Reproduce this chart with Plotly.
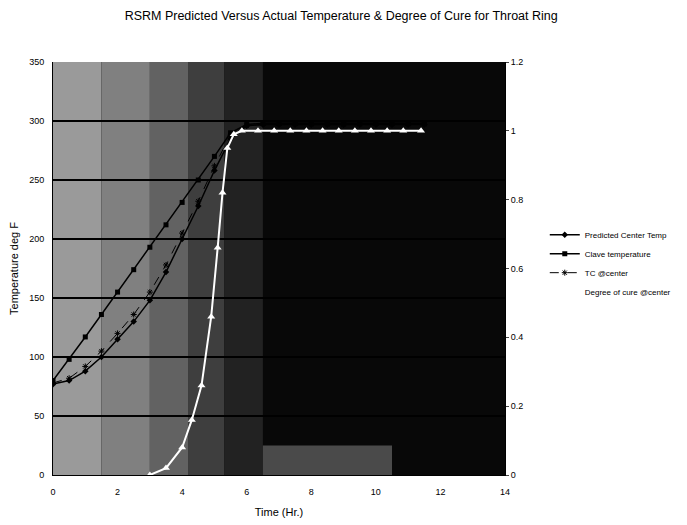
import plotly.graph_objects as go

# ---- data ----
temp_time = [0, 0.5, 1, 1.5, 2, 2.5, 3, 3.5, 4, 4.5, 5, 5.5, 6, 6.5, 7, 7.5, 8, 8.5, 9, 9.5, 10, 10.5, 11, 11.5]
predicted_center = [77, 80, 88, 100, 115, 130, 148, 172, 200, 228, 258, 285, 296, 297, 297, 297, 297, 297, 297, 297, 297, 297, 297, 297]
clave_temp = [80, 98, 117, 136, 155, 174, 193, 212, 231, 250, 270, 290, 297, 298, 298, 298, 298, 298, 298, 298, 298, 298, 298, 298]
tc_center = [78, 82, 92, 105, 120, 136, 155, 178, 205, 232, 262, 288, 296, 297, 297, 297, 297, 297, 297, 297, 297, 297, 297, 297]

cure_time = [3.0, 3.5, 4.0, 4.3, 4.6, 4.9, 5.1, 5.25, 5.4, 5.6, 5.85, 6.35, 6.85, 7.35, 7.85, 8.35, 8.85, 9.35, 9.85, 10.35, 10.85, 11.4]
cure_degree = [0.0, 0.02, 0.08, 0.16, 0.26, 0.46, 0.66, 0.82, 0.95, 0.99, 1.0, 1.0, 1.0, 1.0, 1.0, 1.0, 1.0, 1.0, 1.0, 1.0, 1.0, 1.0]

title_text = "RSRM Predicted Versus Actual Temperature & Degree of Cure for Throat Ring"
x_title = "Time (Hr.)"
y_title = "Temperature deg F"

FONT = "Liberation Sans, Arial, sans-serif"

fig = go.Figure()
fig.add_trace(go.Scatter(x=temp_time, y=predicted_center, name="Predicted Center Temp",
                         mode="lines+markers", line=dict(color="black", width=1.5),
                         marker=dict(symbol="diamond", size=5, color="black")))
fig.add_trace(go.Scatter(x=temp_time, y=clave_temp, name="Clave temperature",
                         mode="lines+markers", line=dict(color="black", width=1.5),
                         marker=dict(symbol="square", size=5, color="black")))
fig.add_trace(go.Scatter(x=temp_time, y=tc_center, name="TC @center",
                         mode="lines+markers", line=dict(color="black", width=1, dash="dash"),
                         marker=dict(symbol="asterisk-open", size=5, color="black",
                                     line=dict(color="black", width=1))))
fig.add_trace(go.Scatter(x=cure_time, y=cure_degree, name="Degree of cure @center",
                         mode="lines+markers", yaxis="y2", line=dict(color="white", width=2),
                         marker=dict(symbol="triangle-up", size=7, color="white")))

# scanned-looking background bands (lighter on the left, dark on the right)
bands = [(0, 1.5, "#9a9a9a"), (1.5, 3, "#808080"), (3, 4.2, "#626262"),
         (4.2, 5.3, "#3e3e3e"), (5.3, 6.5, "#222222")]
shapes = []
for x0, x1, c in bands:
    shapes.append(dict(type="rect", xref="x", yref="paper", x0=x0, x1=x1, y0=0, y1=1,
                       fillcolor=c, line=dict(width=0), layer="below"))
shapes.append(dict(type="rect", xref="x", yref="y", x0=6.5, x1=10.5, y0=0, y1=25,
                   fillcolor="#4a4a4a", line=dict(width=0), layer="below"))

fig.update_layout(
    width=687, height=525,
    margin=dict(l=45, r=190, t=54, b=58, autoexpand=False),
    paper_bgcolor="white", plot_bgcolor="#080808",
    font=dict(family=FONT, size=9, color="black"),
    title=dict(text=title_text, x=0.485, xref="container", xanchor="center", y=0.986, yanchor="middle",
               font=dict(family=FONT, size=12.5, color="black")),
    shapes=shapes,
    showlegend=True,
    legend=dict(x=1.088, y=0.617, xanchor="left", yanchor="top", font=dict(size=8),
                bgcolor="white", borderwidth=0, tracegroupgap=0, itemwidth=30),
    xaxis=dict(range=[0, 14], dtick=2, tick0=0, showgrid=False, zeroline=False,
               showline=True, linecolor="black", linewidth=1,
               ticks="", tickfont=dict(size=9), ticklabelstandoff=8,
               title=dict(text=x_title, font=dict(size=11), standoff=12)),
    yaxis=dict(range=[0, 350], dtick=50, tick0=0, showgrid=True, gridcolor="black", gridwidth=1.5,
               zeroline=False, showline=True, linecolor="black", linewidth=1, ticks="",
               tickfont=dict(size=9), ticklabelstandoff=6,
               title=dict(text=y_title, font=dict(size=11), standoff=9)),
    yaxis2=dict(range=[0, 1.2], dtick=0.2, tick0=0, overlaying="y", side="right",
                showgrid=False, zeroline=False, showline=True, linecolor="black", linewidth=1,
                ticks="outside", ticklen=3, tickfont=dict(size=9)),
)

fig.write_html("out.html")
